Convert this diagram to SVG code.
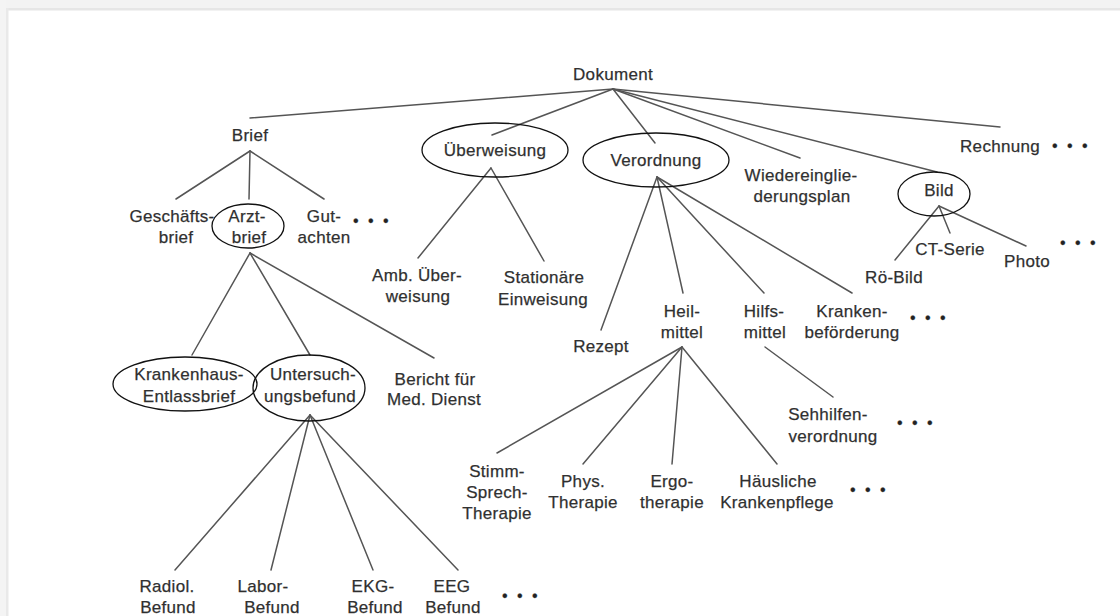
<svg xmlns="http://www.w3.org/2000/svg" width="1120" height="616" viewBox="0 0 1120 616">
  <style>
    text { font-family: "Liberation Sans", Arial, sans-serif; font-size: 17px; fill: #2e2e2e; stroke: #3a3a3a; stroke-width: 0.25px; text-anchor: middle; letter-spacing: 0.3px; }
    text.more { text-anchor: start; letter-spacing: 2.5px; font-size: 16px; fill: #222; }
    .edge { stroke: #555; stroke-width: 1.5; fill: none; stroke-linecap: round; }
    .ring { fill: none; stroke: #111; stroke-width: 1.3; }
  </style>

  <!-- page frame -->
  <rect x="0" y="0" width="1120" height="616" fill="#ffffff"/>
  <rect x="0" y="0" width="1120" height="8" fill="#f3f3f3"/>
  <rect x="6" y="8" width="1114" height="2.5" fill="#e6e6e6"/>
  <rect x="0" y="0" width="6" height="616" fill="#f4f4f4"/>
  <rect x="6" y="8" width="2.5" height="608" fill="#e9e9e9"/>

  <!-- connectors -->
  <g id="connectors">
    <!-- Dokument -->
    <line class="edge" x1="613" y1="89" x2="250" y2="118"/>
    <line class="edge" x1="613" y1="89" x2="492" y2="135"/>
    <line class="edge" x1="613" y1="89" x2="655" y2="143"/>
    <line class="edge" x1="613" y1="89" x2="800" y2="158"/>
    <line class="edge" x1="613" y1="89" x2="937" y2="172"/>
    <line class="edge" x1="613" y1="89" x2="1000" y2="127"/>
    <!-- Brief -->
    <line class="edge" x1="250" y1="151" x2="176" y2="199"/>
    <line class="edge" x1="250" y1="151" x2="249" y2="199"/>
    <line class="edge" x1="250" y1="151" x2="324" y2="199"/>
    <!-- Arztbrief -->
    <line class="edge" x1="250" y1="253" x2="192" y2="355"/>
    <line class="edge" x1="250" y1="253" x2="310" y2="355"/>
    <line class="edge" x1="250" y1="253" x2="434" y2="358"/>
    <!-- Untersuchungsbefund -->
    <line class="edge" x1="310" y1="415" x2="175" y2="570"/>
    <line class="edge" x1="310" y1="415" x2="271" y2="570"/>
    <line class="edge" x1="310" y1="415" x2="373" y2="570"/>
    <line class="edge" x1="310" y1="415" x2="458" y2="570"/>
    <!-- Überweisung -->
    <line class="edge" x1="491" y1="168" x2="418" y2="258"/>
    <line class="edge" x1="491" y1="168" x2="544" y2="261"/>
    <!-- Verordnung -->
    <line class="edge" x1="657" y1="177" x2="601" y2="330"/>
    <line class="edge" x1="657" y1="177" x2="683" y2="293"/>
    <line class="edge" x1="657" y1="177" x2="764" y2="293"/>
    <line class="edge" x1="657" y1="177" x2="852" y2="293"/>
    <!-- Heilmittel -->
    <line class="edge" x1="682" y1="347" x2="497" y2="453"/>
    <line class="edge" x1="682" y1="347" x2="583" y2="464"/>
    <line class="edge" x1="682" y1="347" x2="672" y2="464"/>
    <line class="edge" x1="682" y1="347" x2="777" y2="464"/>
    <!-- Hilfsmittel -->
    <line class="edge" x1="765" y1="347" x2="833" y2="397"/>
    <!-- Bild -->
    <line class="edge" x1="939" y1="206" x2="895" y2="260"/>
    <line class="edge" x1="939" y1="206" x2="950" y2="233"/>
    <line class="edge" x1="939" y1="206" x2="1026" y2="246"/>
  </g>

  <!-- nodes -->
  <g id="dokument"><text x="613" y="80">Dokument</text></g>

  <g id="brief"><text x="250" y="141">Brief</text></g>
  <g id="geschaeftsbrief">
    <text x="172" y="222">Geschäfts-</text>
    <text x="176" y="243">brief</text>
  </g>
  <g id="arztbrief">
    <ellipse class="ring" cx="248" cy="226" rx="36" ry="22"/>
    <text x="247" y="222">Arzt-</text>
    <text x="249" y="243">brief</text>
  </g>
  <g id="gutachten">
    <text x="324" y="222">Gut-</text>
    <text x="324" y="243">achten</text>
    <text class="more" x="353" y="226">• • •</text>
  </g>

  <g id="krankenhaus-entlassbrief">
    <ellipse class="ring" cx="185" cy="384" rx="72" ry="27"/>
    <text x="189" y="380">Krankenhaus-</text>
    <text x="189" y="402">Entlassbrief</text>
  </g>
  <g id="untersuchungsbefund">
    <ellipse class="ring" cx="309" cy="388" rx="56" ry="33"/>
    <text x="313" y="380">Untersuch-</text>
    <text x="310" y="402">ungsbefund</text>
  </g>
  <g id="bericht-med-dienst">
    <text x="435" y="385">Bericht für</text>
    <text x="434" y="405">Med. Dienst</text>
  </g>

  <g id="radiol-befund">
    <text x="167" y="592">Radiol.</text>
    <text x="168" y="613">Befund</text>
  </g>
  <g id="labor-befund">
    <text x="263" y="592">Labor-</text>
    <text x="272" y="613">Befund</text>
  </g>
  <g id="ekg-befund">
    <text x="373" y="592">EKG-</text>
    <text x="375" y="613">Befund</text>
  </g>
  <g id="eeg-befund">
    <text x="452" y="592">EEG</text>
    <text x="453" y="613">Befund</text>
    <text class="more" x="502" y="601">• • •</text>
  </g>

  <g id="ueberweisung">
    <ellipse class="ring" cx="495" cy="150" rx="73" ry="27"/>
    <text x="495" y="156">Überweisung</text>
  </g>
  <g id="amb-ueberweisung">
    <text x="417" y="281">Amb. Über-</text>
    <text x="418" y="302">weisung</text>
  </g>
  <g id="stationaere-einweisung">
    <text x="544" y="283">Stationäre</text>
    <text x="543" y="305">Einweisung</text>
  </g>

  <g id="verordnung">
    <ellipse class="ring" cx="656" cy="160" rx="73" ry="27"/>
    <text x="656" y="166">Verordnung</text>
  </g>
  <g id="rezept"><text x="601" y="352">Rezept</text></g>
  <g id="heilmittel">
    <text x="682" y="317">Heil-</text>
    <text x="682" y="338">mittel</text>
  </g>
  <g id="hilfsmittel">
    <text x="764" y="317">Hilfs-</text>
    <text x="765" y="338">mittel</text>
  </g>
  <g id="krankenbefoerderung">
    <text x="852" y="317">Kranken-</text>
    <text x="852" y="338">beförderung</text>
    <text class="more" x="910" y="323">• • •</text>
  </g>

  <g id="stimm-sprech-therapie">
    <text x="497" y="477">Stimm-</text>
    <text x="497" y="498">Sprech-</text>
    <text x="497" y="519">Therapie</text>
  </g>
  <g id="phys-therapie">
    <text x="583" y="487">Phys.</text>
    <text x="583" y="508">Therapie</text>
  </g>
  <g id="ergotherapie">
    <text x="672" y="487">Ergo-</text>
    <text x="672" y="508">therapie</text>
  </g>
  <g id="haeusliche-krankenpflege">
    <text x="778" y="487">Häusliche</text>
    <text x="777" y="508">Krankenpflege</text>
    <text class="more" x="850" y="495">• • •</text>
  </g>

  <g id="sehhilfenverordnung">
    <text x="828" y="420">Sehhilfen-</text>
    <text x="833" y="442">verordnung</text>
    <text class="more" x="897" y="428">• • •</text>
  </g>

  <g id="wiedereingliederungsplan">
    <text x="801" y="181">Wiedereinglie-</text>
    <text x="802" y="202">derungsplan</text>
  </g>

  <g id="bild">
    <ellipse class="ring" cx="934" cy="194" rx="36" ry="22"/>
    <text x="939" y="196">Bild</text>
  </g>
  <g id="roe-bild"><text x="894" y="283">Rö-Bild</text></g>
  <g id="ct-serie"><text x="950" y="255">CT-Serie</text></g>
  <g id="photo">
    <text x="1027" y="267">Photo</text>
    <text class="more" x="1060" y="248">• • •</text>
  </g>

  <g id="rechnung">
    <text x="1000" y="152">Rechnung</text>
    <text class="more" x="1052" y="151">• • •</text>
  </g>
</svg>
